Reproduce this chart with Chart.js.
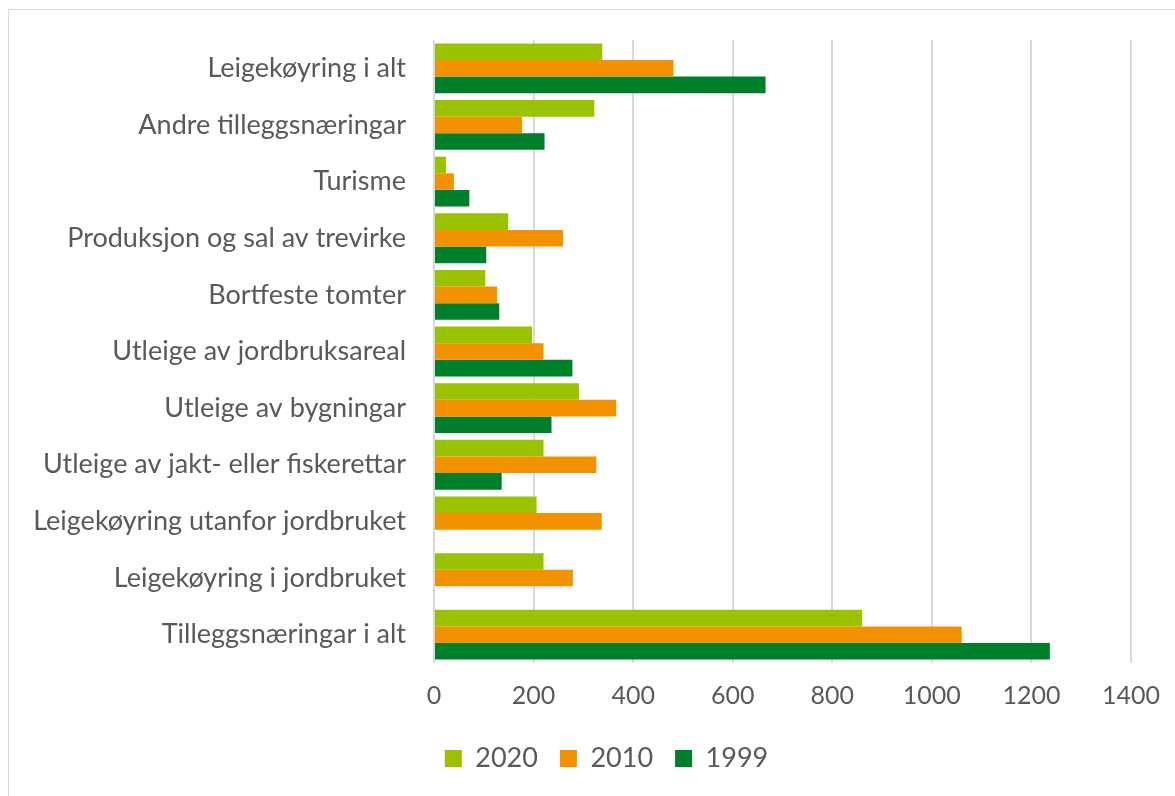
<!DOCTYPE html>
<html>
<head>
<meta charset="utf-8">
<script src="https://cdn.jsdelivr.net/npm/chart.js@4.4.1/dist/chart.umd.min.js"></script>
<style>
  html, body { margin: 0; padding: 0; background: #fff; }
  #wrap { position: relative; width: 1175px; height: 796px; overflow: hidden; }
  #frame { position: absolute; left: 8px; top: 9px; width: 1180px; height: 800px; border: 1px solid #d9d9d9; box-sizing: border-box; }
  canvas { position: absolute; left: 0; top: 0; }
</style>
</head>
<body>
<div id="wrap">
  <div id="frame"></div>
  <canvas id="chart" width="1175" height="796"></canvas>
</div>
<script>
const categories = [
    "Leigekøyring i alt",
    "Andre tilleggsnæringar",
    "Turisme",
    "Produksjon og sal av trevirke",
    "Bortfeste tomter",
    "Utleige av jordbruksareal",
    "Utleige av bygningar",
    "Utleige av jakt- eller fiskerettar",
    "Leigekøyring utanfor jordbruket",
    "Leigekøyring i jordbruket",
    "Tilleggsnæringar i alt",
];
const values2020 = [338, 322, 24, 149, 103, 197, 291, 220, 206, 220, 860];
const values2010 = [481, 177, 40, 259, 127, 220, 366, 326, 337, 279, 1060];
const values1999 = [666, 222, 71, 105, 131, 278, 236, 136, null, null, 1237];
const xTicks = [0, 200, 400, 600, 800, 1000, 1200, 1400];

const colors = ["#9bc200", "#f39200", "#007f2a"];
const textColor = "#595959";
const font = "Lato, 'Open Sans', sans-serif";

function makeDataset(label, data, color) {
    return {
        label: label,
        data: data,
        backgroundColor: color,
        borderWidth: 0,
        categoryPercentage: 0.88,
        barPercentage: 1.0,
    };
}

// nudge the legend to the right, like in the original
const legendShift = {
    id: "legendShift",
    afterLayout(chart) {
        chart.legend.left += 36;
        chart.legend.right += 36;
    },
};

const canvas = document.querySelector("#chart");
new Chart(canvas, {
    type: "bar",
    data: {
        labels: categories,
        datasets: [
            makeDataset("2020", values2020, colors[0]),
            makeDataset("2010", values2010, colors[1]),
            makeDataset("1999", values1999, colors[2]),
        ],
    },
    plugins: [legendShift],
    options: {
        indexAxis: "y",
        responsive: false,
        animation: false,
        layout: { padding: { top: 40, left: 10, right: 44, bottom: 14 } },
        scales: {
            x: {
                min: 0,
                max: 1400,
                afterBuildTicks: (axis) => {
                    axis.ticks = xTicks.map((v) => ({ value: v }));
                },
                afterFit: (axis) => {
                    axis.height = 60;
                    axis.paddingLeft = 0;
                    axis.paddingRight = 0;
                },
                grid: { color: "#d9d9d9", lineWidth: 2, drawTicks: false },
                border: { display: false },
                ticks: {
                    color: textColor,
                    font: { family: font, size: 25 },
                    padding: 18,
                    callback: (v) => String(v),
                },
            },
            y: {
                afterFit: (axis) => {
                    axis.width = 424;
                    axis.paddingTop = 0;
                    axis.paddingBottom = 0;
                },
                grid: { display: false, drawTicks: false },
                border: { display: false },
                ticks: { color: textColor, font: { family: font, size: 27 }, padding: 28 },
            },
        },
        plugins: {
            legend: {
                position: "bottom",
                labels: {
                    color: textColor,
                    font: { family: font, size: 27 },
                    boxWidth: 17,
                    boxHeight: 17,
                    padding: 22,
                },
            },
            tooltip: { enabled: false },
        },
    },
});
</script>
</body>
</html>
